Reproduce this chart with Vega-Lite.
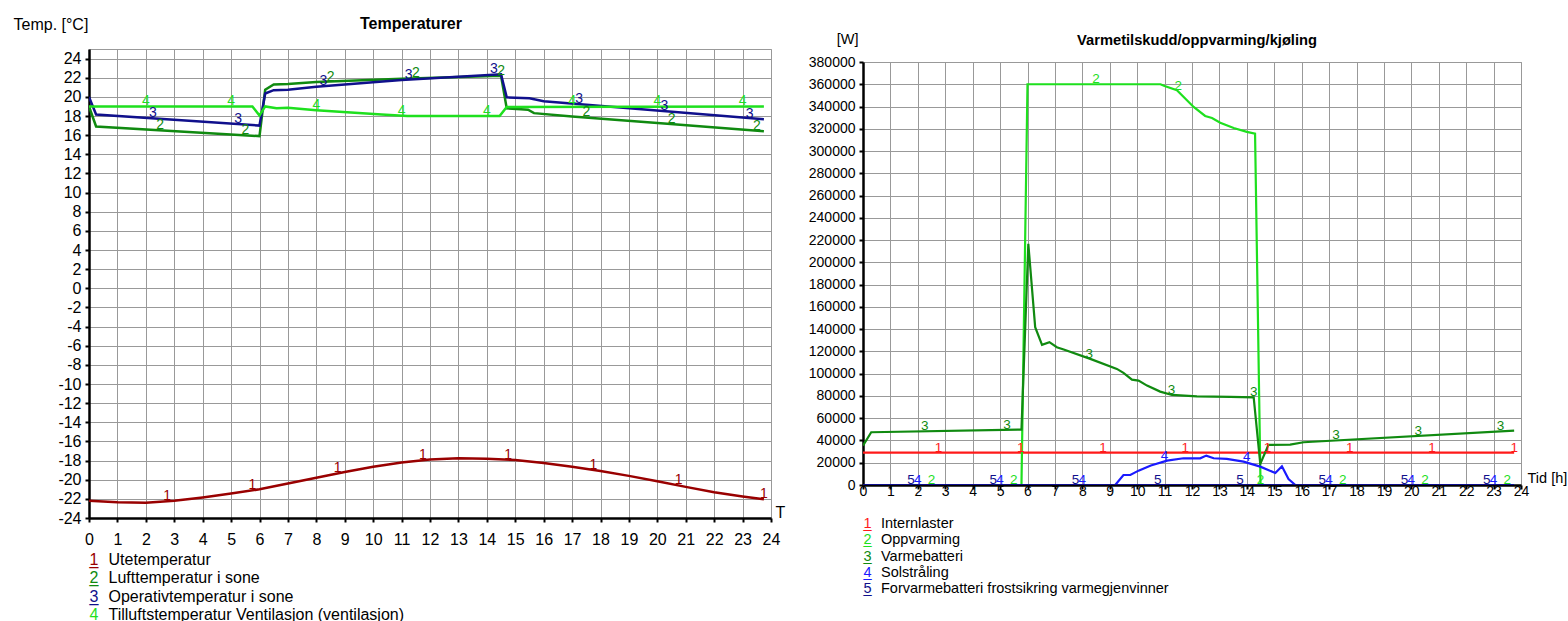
{
  "$schema": "https://vega.github.io/schema/vega-lite/v6.json",
  "background": "white",
  "padding": {"left": 12, "top": 15, "right": 0, "bottom": 0},
  "config": {
    "font": "Liberation Sans",
    "view": {"stroke": "#999999", "strokeWidth": 1},
    "text": {"font": "Liberation Sans"}
  },
  "datasets": {
    "tLines": [
      {"s":"1","h":0,"v":-22.2},{"s":"1","h":1,"v":-22.35},{"s":"1","h":2,"v":-22.4},{"s":"1","h":3,"v":-22.2},{"s":"1","h":4,"v":-21.85},{"s":"1","h":5,"v":-21.45},{"s":"1","h":6,"v":-21.0},{"s":"1","h":7,"v":-20.4},{"s":"1","h":8,"v":-19.8},{"s":"1","h":9,"v":-19.2},{"s":"1","h":10,"v":-18.65},{"s":"1","h":11,"v":-18.2},{"s":"1","h":12,"v":-17.9},{"s":"1","h":13,"v":-17.75},{"s":"1","h":14,"v":-17.8},{"s":"1","h":15,"v":-17.95},{"s":"1","h":16,"v":-18.25},{"s":"1","h":17,"v":-18.65},{"s":"1","h":18,"v":-19.1},{"s":"1","h":19,"v":-19.6},{"s":"1","h":20,"v":-20.15},{"s":"1","h":21,"v":-20.75},{"s":"1","h":22,"v":-21.3},{"s":"1","h":23,"v":-21.75},{"s":"1","h":23.75,"v":-22.05},
      {"s":"2","h":0,"v":19.0},{"s":"2","h":0.25,"v":16.9},{"s":"2","h":6.0,"v":15.9},{"s":"2","h":6.2,"v":20.75},{"s":"2","h":6.5,"v":21.3},{"s":"2","h":7,"v":21.35},{"s":"2","h":8,"v":21.55},{"s":"2","h":11,"v":21.9},{"s":"2","h":14.5,"v":22.2},{"s":"2","h":14.7,"v":18.8},{"s":"2","h":15.2,"v":18.7},{"s":"2","h":15.45,"v":18.65},{"s":"2","h":15.66,"v":18.3},{"s":"2","h":17,"v":17.95},{"s":"2","h":20.35,"v":17.2},{"s":"2","h":23.75,"v":16.4},
      {"s":"3","h":0,"v":20.0},{"s":"3","h":0.25,"v":18.15},{"s":"3","h":6.0,"v":17.0},{"s":"3","h":6.2,"v":20.35},{"s":"3","h":6.5,"v":20.7},{"s":"3","h":7,"v":20.75},{"s":"3","h":8,"v":21.05},{"s":"3","h":11,"v":21.75},{"s":"3","h":14.5,"v":22.35},{"s":"3","h":14.7,"v":19.95},{"s":"3","h":15.5,"v":19.85},{"s":"3","h":16,"v":19.55},{"s":"3","h":23.75,"v":17.65},
      {"s":"4","h":0,"v":19.0},{"s":"4","h":5.75,"v":19.0},{"s":"4","h":6.0,"v":18.05},{"s":"4","h":6.2,"v":19.0},{"s":"4","h":6.6,"v":18.8},{"s":"4","h":7,"v":18.85},{"s":"4","h":8,"v":18.6},{"s":"4","h":10.3,"v":18.15},{"s":"4","h":11.2,"v":18.0},{"s":"4","h":14.45,"v":18.0},{"s":"4","h":14.7,"v":18.95},{"s":"4","h":23.75,"v":19.0}
    ],
    "tLabels": [
      {"s":"1","h":2.75,"v":-22.25},{"s":"1","h":5.75,"v":-21.1},{"s":"1","h":8.75,"v":-19.35},{"s":"1","h":11.75,"v":-17.95},{"s":"1","h":14.75,"v":-17.9},{"s":"1","h":17.75,"v":-19.0},{"s":"1","h":20.75,"v":-20.6},{"s":"1","h":23.75,"v":-22.05},
      {"s":"2","h":2.5,"v":16.5},{"s":"2","h":5.5,"v":16.0},{"s":"2","h":8.5,"v":21.6},{"s":"2","h":11.5,"v":21.95},{"s":"2","h":14.5,"v":22.2},{"s":"2","h":17.5,"v":17.85},{"s":"2","h":20.5,"v":17.15},{"s":"2","h":23.5,"v":16.45},
      {"s":"3","h":2.25,"v":17.75},{"s":"3","h":5.25,"v":17.15},{"s":"3","h":8.25,"v":21.15},{"s":"3","h":11.25,"v":21.75},{"s":"3","h":14.25,"v":22.35},{"s":"3","h":17.25,"v":19.25},{"s":"3","h":20.25,"v":18.5},{"s":"3","h":23.25,"v":17.7},
      {"s":"4","h":2,"v":19},{"s":"4","h":5,"v":19},{"s":"4","h":8,"v":18.6},{"s":"4","h":11,"v":18.0},{"s":"4","h":14,"v":18.0},{"s":"4","h":17,"v":19},{"s":"4","h":20,"v":19},{"s":"4","h":23,"v":19}
    ],
    "wLines": [
      {"s":"1","h":0,"v":29000},{"s":"1","h":23.75,"v":29000},
      {"s":"2","h":0,"v":0},{"s":"2","h":5.78,"v":0},{"s":"2","h":6.0,"v":360000},{"s":"2","h":10.85,"v":360000},{"s":"2","h":11.0,"v":358500},{"s":"2","h":11.45,"v":354600},{"s":"2","h":12.06,"v":339600},{"s":"2","h":12.48,"v":331500},{"s":"2","h":12.73,"v":329700},{"s":"2","h":13.03,"v":325500},{"s":"2","h":13.52,"v":320700},{"s":"2","h":14.0,"v":317200},{"s":"2","h":14.3,"v":315600},{"s":"2","h":14.5,"v":0},{"s":"2","h":23.75,"v":0},
      {"s":"3","h":0,"v":35400},{"s":"3","h":0.3,"v":47400},{"s":"3","h":5.78,"v":49800},{"s":"3","h":6.03,"v":216700},{"s":"3","h":6.28,"v":141800},{"s":"3","h":6.53,"v":125900},{"s":"3","h":6.8,"v":128300},{"s":"3","h":7.07,"v":123800},{"s":"3","h":7.32,"v":121700},{"s":"3","h":8.29,"v":113300},{"s":"3","h":9.26,"v":104300},{"s":"3","h":9.5,"v":100700},{"s":"3","h":9.81,"v":94700},{"s":"3","h":10.05,"v":93800},{"s":"3","h":10.36,"v":89300},{"s":"3","h":10.84,"v":83900},{"s":"3","h":11.27,"v":80900},{"s":"3","h":12.18,"v":79700},{"s":"3","h":13.4,"v":79100},{"s":"3","h":14.25,"v":78800},{"s":"3","h":14.49,"v":18900},{"s":"3","h":14.79,"v":36000},{"s":"3","h":15.58,"v":36300},{"s":"3","h":16.07,"v":38400},{"s":"3","h":23.75,"v":48900},
      {"s":"4","h":0,"v":0},{"s":"4","h":9.2,"v":0},{"s":"4","h":9.5,"v":9000},{"s":"4","h":9.75,"v":9000},{"s":"4","h":10.05,"v":12900},{"s":"4","h":10.5,"v":17500},{"s":"4","h":11.09,"v":21900},{"s":"4","h":11.69,"v":24000},{"s":"4","h":12.3,"v":24000},{"s":"4","h":12.52,"v":26400},{"s":"4","h":12.79,"v":24000},{"s":"4","h":13.27,"v":23400},{"s":"4","h":13.88,"v":21000},{"s":"4","h":14.49,"v":16500},{"s":"4","h":15.04,"v":10800},{"s":"4","h":15.28,"v":16800},{"s":"4","h":15.52,"v":5400},{"s":"4","h":15.77,"v":0},{"s":"4","h":23.75,"v":0},
      {"s":"5","h":0,"v":0},{"s":"5","h":23.75,"v":0}
    ],
    "wLabels": [
      {"s":"1","h":2.75,"v":29000},{"s":"1","h":5.75,"v":29000},{"s":"1","h":8.75,"v":29000},{"s":"1","h":11.75,"v":29000},{"s":"1","h":14.75,"v":29000},{"s":"1","h":17.75,"v":29000},{"s":"1","h":20.75,"v":29000},{"s":"1","h":23.75,"v":29000},
      {"s":"2","h":2.5,"v":0},{"s":"2","h":5.5,"v":0},{"s":"2","h":8.5,"v":360000},{"s":"2","h":11.5,"v":354000},{"s":"2","h":14.5,"v":0},{"s":"2","h":17.5,"v":0},{"s":"2","h":20.5,"v":0},{"s":"2","h":23.5,"v":0},
      {"s":"3","h":2.25,"v":48200},{"s":"3","h":5.25,"v":49600},{"s":"3","h":8.25,"v":113600},{"s":"3","h":11.25,"v":81000},{"s":"3","h":14.25,"v":78800},{"s":"3","h":17.25,"v":40000},{"s":"3","h":20.25,"v":44100},{"s":"3","h":23.25,"v":48200},
      {"s":"4","h":2,"v":0},{"s":"4","h":5,"v":0},{"s":"4","h":8,"v":0},{"s":"4","h":11,"v":21500},{"s":"4","h":14,"v":20500},{"s":"4","h":17,"v":0},{"s":"4","h":20,"v":0},{"s":"4","h":23,"v":0},
      {"s":"5","h":1.75,"v":0},{"s":"5","h":4.75,"v":0},{"s":"5","h":7.75,"v":0},{"s":"5","h":10.75,"v":0},{"s":"5","h":13.75,"v":0},{"s":"5","h":16.75,"v":0},{"s":"5","h":19.75,"v":0},{"s":"5","h":22.75,"v":0}
    ]
  },
  "resolve": {"scale": {"color": "independent"}},
  "columns": 2,
  "align": "none",
  "spacing": 21,
  "concat": [
    {
      "spacing": 3,
      "vconcat": [
        {
          "width": 682,
          "height": 469,
          "title": {"text": "Temperaturer", "fontSize": 16, "fontWeight": "bold", "color": "#000000", "offset": -16, "dx": -19},
          "encoding": {
            "x": {"field": "h", "type": "quantitative", "scale": {"domain": [0, 24], "nice": false, "zero": false},
              "axis": {"values": [0,1,2,3,4,5,6,7,8,9,10,11,12,13,14,15,16,17,18,19,20,21,22,23,24],
                "grid": true, "gridColor": "#999999", "gridWidth": 1,
                "domainColor": "#000000", "domainWidth": 2.5, "tickColor": "#000000", "tickWidth": 2, "tickSize": 4,
                "labelFontSize": 16, "labelColor": "#000000", "labelPadding": 9, "labelFlush": false, "labelOverlap": false,
                "title": "T", "titleX": 686, "titleY": -1, "titleAlign": "left", "titleBaseline": "alphabetic",
                "titleFontWeight": "normal", "titleFontSize": 16, "titleColor": "#000000",
                "encode": {"ticks": {"update": {"y": {"value": -4}}}}}},
            "y": {"field": "v", "type": "quantitative", "scale": {"domain": [-24, 25], "nice": false, "zero": false},
              "axis": {"values": [-24,-22,-20,-18,-16,-14,-12,-10,-8,-6,-4,-2,0,2,4,6,8,10,12,14,16,18,20,22,24],
                "grid": true, "gridColor": "#999999", "gridWidth": 1,
                "domainColor": "#000000", "domainWidth": 2.5, "tickColor": "#000000", "tickWidth": 2, "tickSize": 4,
                "labelFontSize": 16, "labelColor": "#000000", "labelPadding": 4, "labelOverlap": false,
                "labelExpr": "'' + datum.value",
                "title": "Temp. [°C]", "titleAngle": 0, "titleX": -76, "titleY": -20, "titleAlign": "left", "titleBaseline": "alphabetic",
                "titleFontWeight": "normal", "titleFontSize": 16, "titleColor": "#000000",
                "encode": {"ticks": {"update": {"x": {"value": 4}}}}}},
            "color": {"field": "s", "type": "nominal", "scale": {"domain": ["1","2","3","4"], "range": ["#990000", "#108a10", "#10108c", "#1ee01e"]}, "legend": null}
          },
          "layer": [
            {"data": {"name": "tLines"}, "mark": {"type": "line", "strokeWidth": 2.5, "clip": true}},
            {"data": {"name": "tLabels"}, "mark": {"type": "text", "fontSize": 14, "baseline": "alphabetic", "align": "center", "dy": -1},
              "encoding": {"text": {"field": "s"}}}
          ]
        },
        {
          "width": 1,
          "height": 73,
          "view": {"stroke": null},
          "data": {"values": [
            {"id": "1", "name": "Utetemperatur"},
            {"id": "2", "name": "Lufttemperatur i sone"},
            {"id": "3", "name": "Operativtemperatur i sone"},
            {"id": "4", "name": "Tilluftstemperatur Ventilasjon (ventilasjon)"}
          ]},
          "encoding": {
            "y": {"field": "name", "type": "nominal", "sort": null, "axis": null, "scale": {"paddingInner": 0, "paddingOuter": 0}},
            "color": {"field": "id", "type": "nominal", "scale": {"domain": ["1","2","3","4"], "range": ["#990000", "#108a10", "#10108c", "#1ee01e"]}, "legend": null}
          },
          "layer": [
            {"mark": {"type": "text", "align": "left", "baseline": "middle", "fontSize": 16}, "encoding": {"text": {"field": "id"}}},
            {"mark": {"type": "text", "align": "left", "baseline": "middle", "fontSize": 16}, "encoding": {"text": {"value": "_"}}},
            {"mark": {"type": "text", "align": "left", "baseline": "middle", "fontSize": 16, "dx": 19, "color": "#000000"}, "encoding": {"text": {"field": "name"}, "color": {"value": "#000000"}}}
          ]
        }
      ]
    },
    {
      "spacing": 17,
      "vconcat": [
        {
          "spacing": -19,
          "vconcat": [
            {"width": 658, "height": 1, "view": {"stroke": null}, "data": {"values": []}, "mark": "text"},
            {
              "width": 658,
              "height": 423,
              "title": {"text": "Varmetilskudd/oppvarming/kjøling", "fontSize": 14.7, "fontWeight": "bold", "color": "#000000", "offset": -16, "dx": 5},
              "encoding": {
                "x": {"field": "h", "type": "quantitative", "scale": {"domain": [0, 24], "nice": false, "zero": false},
                  "axis": {"values": [0,1,2,3,4,5,6,7,8,9,10,11,12,13,14,15,16,17,18,19,20,21,22,23,24],
                    "grid": true, "gridColor": "#999999", "gridWidth": 1,
                    "domainColor": "#000000", "domainWidth": 2.5, "tickColor": "#000000", "tickWidth": 2, "tickSize": 4,
                    "labelFontSize": 14, "labelColor": "#000000", "labelPadding": -5, "labelFlush": false, "labelOverlap": false,
                    "title": "Tid [h]", "titleX": 664, "titleY": -3, "titleAlign": "left", "titleBaseline": "alphabetic",
                    "titleFontWeight": "normal", "titleFontSize": 14.5, "titleColor": "#000000",
                    "encode": {"ticks": {"update": {"y": {"value": -4}}}}}},
                "y": {"field": "v", "type": "quantitative", "scale": {"domain": [0, 380000], "nice": false, "zero": false},
                  "axis": {"values": [0,20000,40000,60000,80000,100000,120000,140000,160000,180000,200000,220000,240000,260000,280000,300000,320000,340000,360000,380000],
                    "grid": true, "gridColor": "#999999", "gridWidth": 1,
                    "domainColor": "#000000", "domainWidth": 2.5, "tickColor": "#000000", "tickWidth": 2, "tickSize": 4,
                    "labelFontSize": 14, "labelColor": "#000000", "labelPadding": 4, "labelOverlap": false,
                    "labelExpr": "'' + datum.value",
                    "title": "[W]", "titleAngle": 0, "titleX": -5, "titleY": -18.5, "titleAlign": "right", "titleBaseline": "alphabetic",
                    "titleFontWeight": "normal", "titleFontSize": 14.5, "titleColor": "#000000",
                    "encode": {"ticks": {"update": {"x": {"value": 4}}}}}},
                "color": {"field": "s", "type": "nominal", "scale": {"domain": ["1","2","3","4","5"], "range": ["#ff1a1a", "#1ee01e", "#108a10", "#1a1aff", "#10108c"]}, "legend": null}
              },
              "layer": [
                {"data": {"name": "wLines"}, "mark": {"type": "line", "strokeWidth": 2.2, "clip": true}},
                {"data": {"name": "wLabels"}, "mark": {"type": "text", "fontSize": 13.5, "baseline": "alphabetic", "align": "center", "dy": -1},
                  "encoding": {"text": {"field": "s"}}}
              ]
            }
          ]
        },
        {
          "width": 1,
          "height": 81.5,
          "view": {"stroke": null},
          "data": {"values": [
            {"id": "1", "name": "Internlaster"},
            {"id": "2", "name": "Oppvarming"},
            {"id": "3", "name": "Varmebatteri"},
            {"id": "4", "name": "Solstråling"},
            {"id": "5", "name": "Forvarmebatteri frostsikring varmegjenvinner"}
          ]},
          "encoding": {
            "y": {"field": "name", "type": "nominal", "sort": null, "axis": null, "scale": {"paddingInner": 0, "paddingOuter": 0}},
            "color": {"field": "id", "type": "nominal", "scale": {"domain": ["1","2","3","4","5"], "range": ["#ff1a1a", "#1ee01e", "#108a10", "#1a1aff", "#10108c"]}, "legend": null}
          },
          "layer": [
            {"mark": {"type": "text", "align": "left", "baseline": "middle", "fontSize": 14.5}, "encoding": {"text": {"field": "id"}}},
            {"mark": {"type": "text", "align": "left", "baseline": "middle", "fontSize": 14.5}, "encoding": {"text": {"value": "_"}}},
            {"mark": {"type": "text", "align": "left", "baseline": "middle", "fontSize": 14.5, "dx": 17.5}, "encoding": {"text": {"field": "name"}, "color": {"value": "#000000"}}}
          ]
        }
      ]
    }
  ]
}
